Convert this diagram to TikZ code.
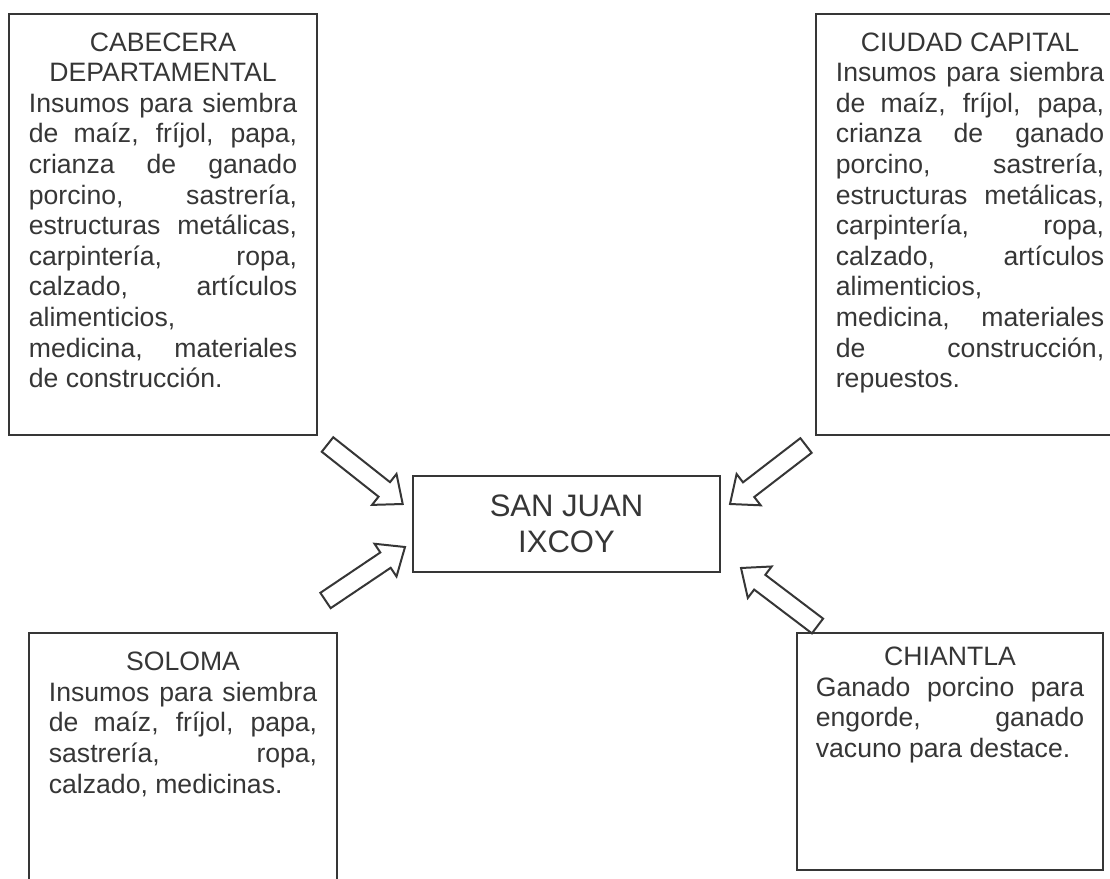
\documentclass[tikz,border=0pt]{standalone}
\usepackage{fontspec}
\setmainfont{Liberation Sans}
\usetikzlibrary{calc,positioning}
\definecolor{cajagris}{HTML}{363636}
\setlength{\parindent}{0pt}
% flecha de bloque hueca: cola -> punta
\newcommand{\flecha}[2]{%
  \draw[flecha] ($(#1)!4.17pt!-90:(#2)$) -- ($(#2)!10.6pt!(#1)!4.17pt!90:(#1)$)
    -- ($(#2)!10.6pt!(#1)!8.9pt!90:(#1)$) -- (#2)
    -- ($(#2)!10.6pt!(#1)!8.9pt!-90:(#1)$) -- ($(#2)!10.6pt!(#1)!4.17pt!-90:(#1)$)
    -- ($(#1)!4.17pt!90:(#2)$) -- cycle;}

\begin{document}
\begin{tikzpicture}[x=0.451pt, y=-0.451pt,
  caja/.style={draw=cajagris, line width=0.9pt, inner sep=0pt},
  texto/.style={text=cajagris, inner sep=0pt, text width=121pt, align=justify,
    font=\fontsize{12}{13.8}\selectfont},
  flecha/.style={draw=cajagris, line width=0.9pt, fill=white}]
\clip (0,0) rectangle (1110,878);
% recuadros
\node[caja, minimum width=138.9pt, minimum height=189.9pt] (cabecera) at (163,224.5) {};
\node[caja, minimum width=138.9pt, minimum height=189.9pt] (capital) at (970,224.5) {};
\node[caja, minimum width=138.9pt, minimum height=135.3pt] (soloma) at (183,783) {};
\node[caja, minimum width=138.0pt, minimum height=106.9pt] (chiantla) at (950,751.5) {};
\node[caja, minimum width=138.5pt, minimum height=43.3pt, align=center, text=cajagris,
  font=\fontsize{14}{16.5}\selectfont] (sanjuan) at (566.5,524) {SAN JUAN\\IXCOY};
% textos
\node[texto, below=8.6pt of cabecera.north] (cabeceratxt) {{\centering CABECERA\\DEPARTAMENTAL\par}
Insumos para siembra\linebreak de maíz, fríjol, papa,\linebreak crianza de ganado\linebreak
porcino, sastrería,\linebreak estructuras metálicas,\linebreak carpintería, ropa,\linebreak
calzado, artículos\linebreak alimenticios,\newline medicina, materiales\linebreak de construcción.};
\node[texto, below=8.6pt of capital.north] (capitaltxt) {{\centering CIUDAD CAPITAL\par}
Insumos para siembra\linebreak de maíz, fríjol, papa,\linebreak crianza de ganado\linebreak
porcino, sastrería,\linebreak estructuras metálicas,\linebreak carpintería, ropa,\linebreak
calzado, artículos\linebreak alimenticios,\newline medicina, materiales\linebreak
de construcción,\linebreak repuestos.};
\node[texto, below=8.9pt of soloma.north] (solomatxt) {{\centering SOLOMA\par}
Insumos para siembra\linebreak de maíz, fríjol, papa,\linebreak sastrería, ropa,\linebreak
calzado, medicinas.};
\node[texto, below=6.5pt of chiantla.north] (chiantlatxt) {{\centering CHIANTLA\par}
Ganado porcino para\linebreak engorde, ganado\linebreak vacuno para destace.};
% flechas hacia San Juan Ixcoy
\coordinate (cabecera-cola) at (327.5,444.5); \coordinate (cabecera-punta) at (402.7,504);
\coordinate (soloma-cola) at (325.5,600.5);   \coordinate (soloma-punta) at (405,547);
\coordinate (capital-cola) at (806,445.5);    \coordinate (capital-punta) at (730,504);
\coordinate (chiantla-cola) at (817.5,626);   \coordinate (chiantla-punta) at (741,568);
\flecha{cabecera-cola}{cabecera-punta}
\flecha{soloma-cola}{soloma-punta}
\flecha{capital-cola}{capital-punta}
\flecha{chiantla-cola}{chiantla-punta}
\end{tikzpicture}
\end{document}
